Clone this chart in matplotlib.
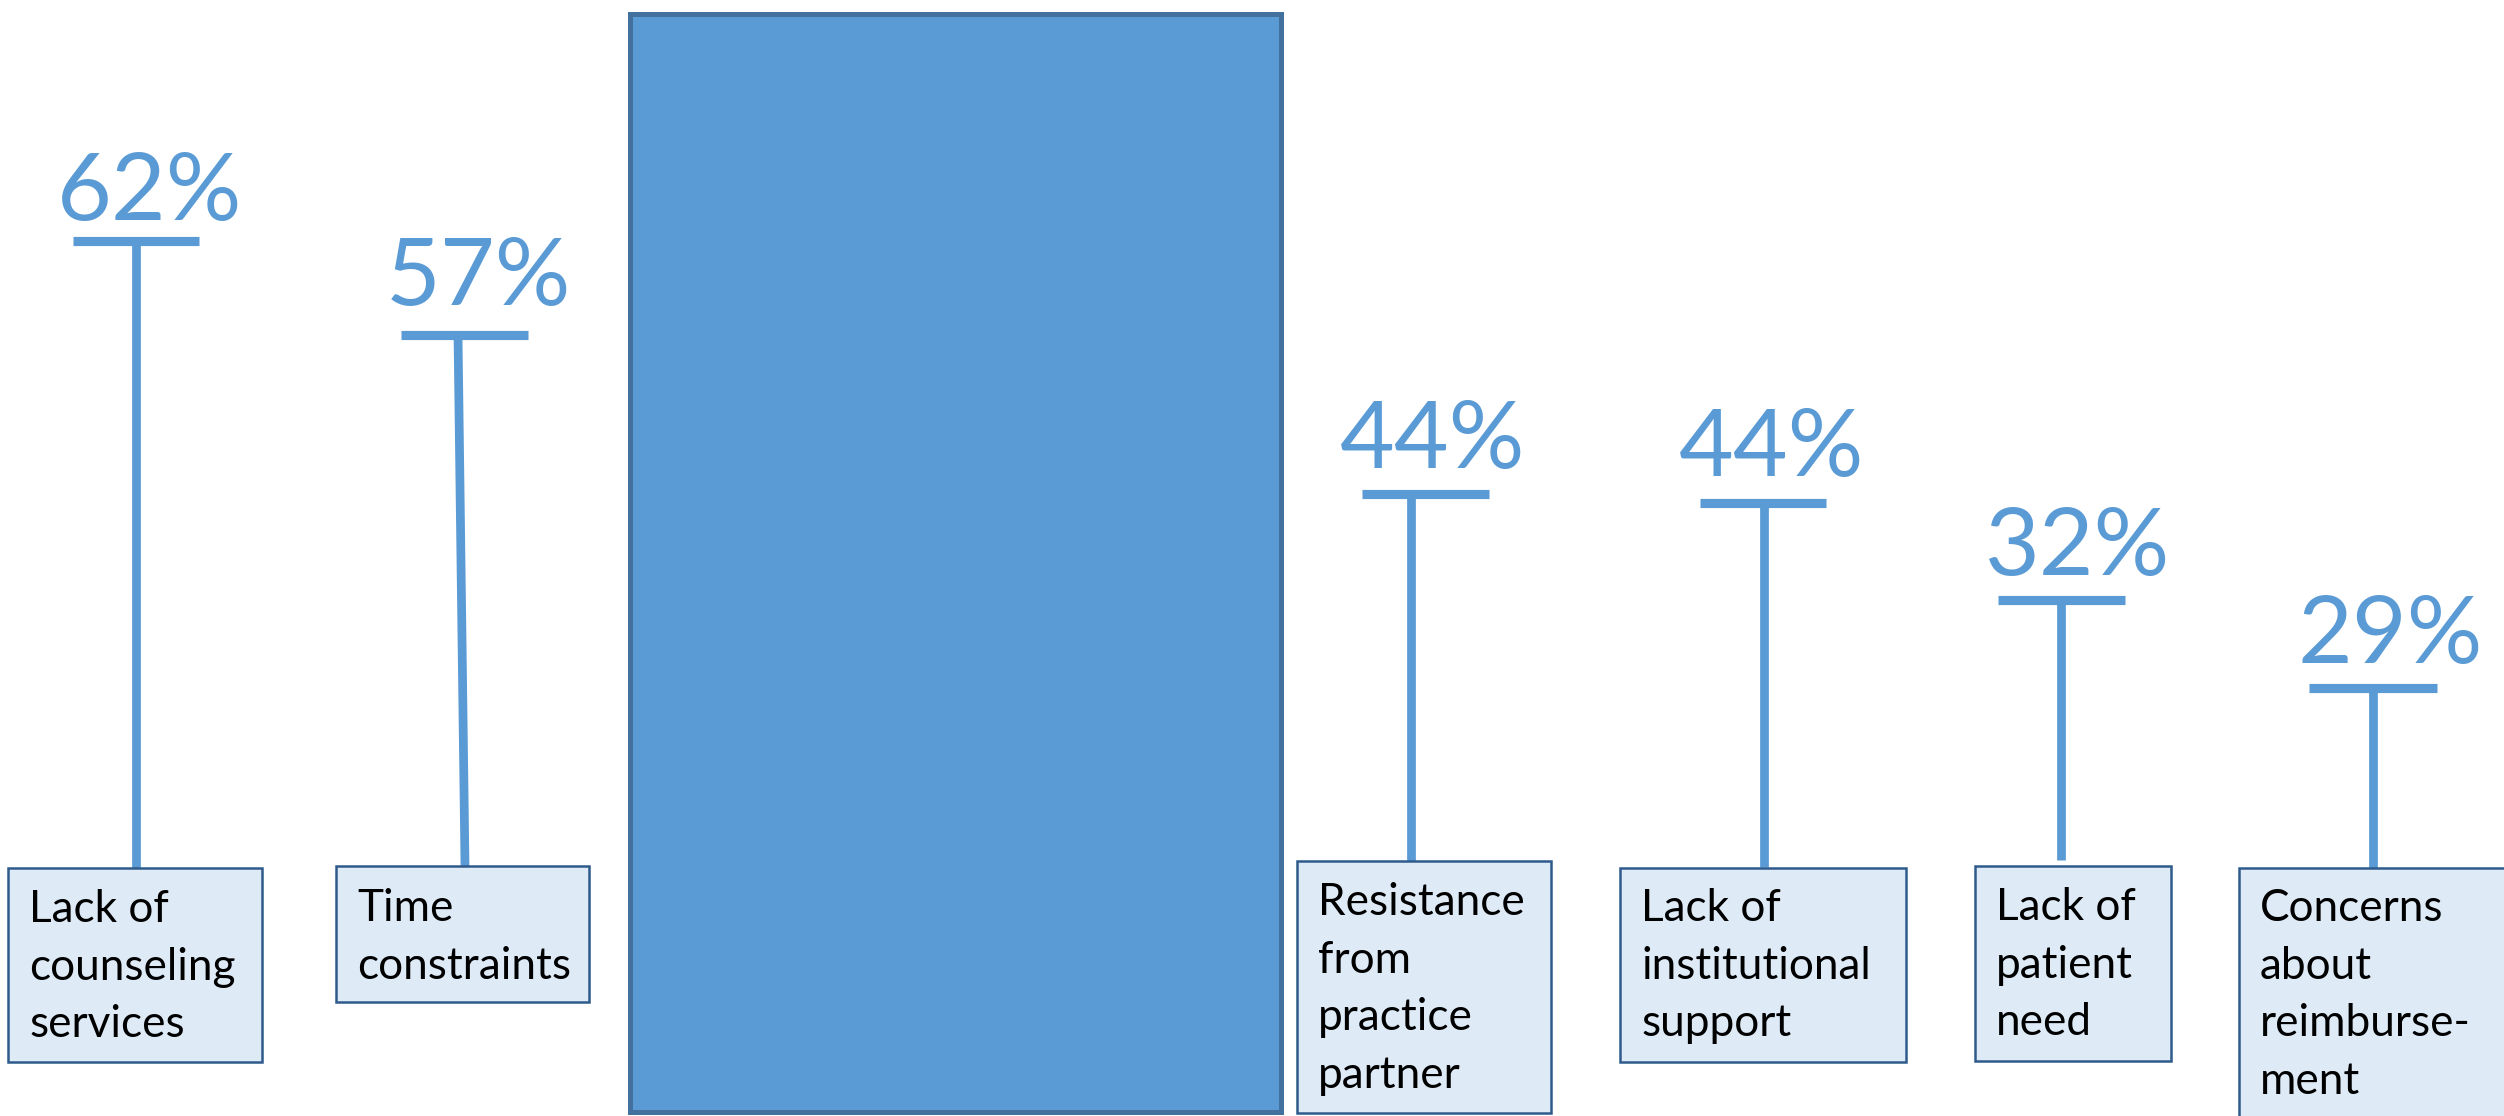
import matplotlib
matplotlib.use("Agg")
import matplotlib.pyplot as plt
from matplotlib.patches import Rectangle

# ---- data ----
categories = ["Lack of\ncounseling\nservices",
              "Time\nconstraints",
              "Resistance\nfrom\npractice\npartner",
              "Lack of\ninstitutional\nsupport",
              "Lack of\npatient\nneed",
              "Concerns\nabout\nreimburse-\nment"]
values = [62, 57, 44, 44, 32, 29]

# ---- layout (pixel coordinates of the hand-drawn diagram) ----
stem_x_top = [136, 458, 1411, 1764, 2061, 2373]
stem_x_bot = [136, 465, 1411, 1764, 2061, 2373]
bar_top_y = [241, 335, 494, 503, 600, 688]
stem_bot_y = [868, 866, 862, 867, 860, 868]
cross_x0 = [73, 401, 1362, 1700, 1998, 2309]
cross_x1 = [199, 528, 1489, 1826, 2125, 2437]
label_cx = [150, 478, 1433, 1772, 2078, 2390]
label_base = [220, 305, 468, 476, 575, 663]
box_x0 = [8, 336, 1297, 1620, 1975, 2239]
box_x1 = [262, 589, 1551, 1906, 2171, 2560]
box_y0 = [868, 866, 861, 868, 866, 868]
box_y1 = [1062, 1002, 1113, 1062, 1061, 1140]
first_base = [922, 921, 915, 921, 920, 921]
line_gap = 57.6

W, H = 2504, 1116
fig = plt.figure(figsize=(W / 100, H / 100), dpi=100)
ax = fig.add_axes([0, 0, 1, 1])
ax.set_xlim(0, W)
ax.set_ylim(H, 0)
ax.axis("off")

blue = "#5B9BD5"
font = "Lato"

# big blue rectangle
ax.add_patch(Rectangle((629.5, 13.5), 651, 1098, facecolor=blue,
                       edgecolor="#41719C", linewidth=3.6, zorder=1))

for i, (cat, v) in enumerate(zip(categories, values)):
    # stem
    ax.plot([stem_x_top[i], stem_x_bot[i]], [bar_top_y[i], stem_bot_y[i]],
            color=blue, lw=6.3, solid_capstyle="butt", zorder=2)
    # crossbar
    ax.plot([cross_x0[i], cross_x1[i]], [bar_top_y[i], bar_top_y[i]],
            color=blue, lw=6.6, solid_capstyle="butt", zorder=2)
    # value label
    ax.text(label_cx[i], label_base[i], f"{v}%", ha="center", va="baseline",
            fontsize=68, color=blue, family=font, zorder=3)
    # category box
    ax.add_patch(Rectangle((box_x0[i], box_y0[i]), box_x1[i] - box_x0[i],
                           box_y1[i] - box_y0[i], facecolor="#DEEBF7",
                           edgecolor="#2F5B8C", linewidth=1.8, zorder=3))
    for j, line in enumerate(cat.split("\n")):
        ax.text(box_x0[i] + 21, first_base[i] + j * line_gap, line,
                ha="left", va="baseline", fontsize=31.8, color="black",
                family=font, zorder=4)

fig.savefig("out.png", dpi=100)
